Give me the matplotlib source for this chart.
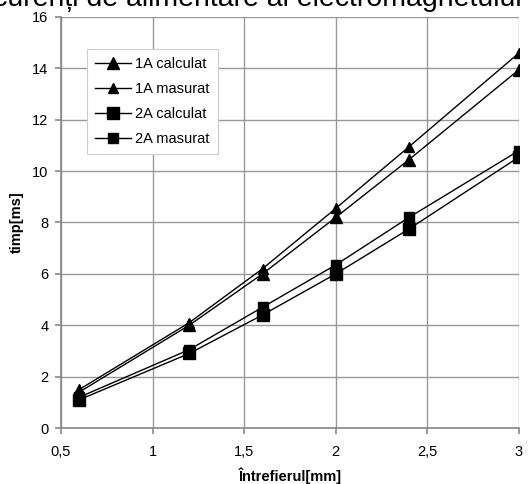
import numpy as np
import matplotlib.pyplot as plt

plt.rcParams['font.family'] = ['Liberation Sans', 'DejaVu Sans']

x = [0.6, 1.2, 1.6, 2.0, 2.4, 3.0]
calc_1A = [1.4, 4.0, 6.0, 8.2, 10.45, 13.95]
mas_1A = [1.5, 4.1, 6.2, 8.55, 10.95, 14.6]
calc_2A = [1.1, 2.9, 4.4, 6.0, 7.75, 10.55]
mas_2A = [1.2, 3.05, 4.7, 6.35, 8.2, 10.8]

xticks = [0.5, 1, 1.5, 2, 2.5, 3]
xlabels = ['0,5', '1', '1,5', '2', '2,5', '3']
yticks = list(range(0, 17, 2))

fig = plt.figure(figsize=(5.28, 4.84), dpi=100)
ax = fig.add_axes([0.1155, 0.1157, 0.8675, 0.8493])

ax.plot(x, calc_1A, color='k', lw=1, marker='^', ms=9, label='1A calculat')
ax.plot(x, mas_1A, color='k', lw=1, marker='^', ms=6.5, label='1A masurat')
ax.plot(x, calc_2A, color='k', lw=1, marker='s', ms=9, label='2A calculat')
ax.plot(x, mas_2A, color='k', lw=1, marker='s', ms=6.5, label='2A masurat')

ax.set_xlim(0.5, 3)
ax.set_ylim(0, 16)
ax.set_xticks(xticks)
ax.set_xticklabels(xlabels)
ax.set_yticks(yticks)
ax.grid(True, color='#999999', lw=1)
ax.set_axisbelow(True)
for s in ['top', 'right']:
    ax.spines[s].set_visible(False)
for s in ['left', 'bottom']:
    ax.spines[s].set_color('#888888')
    ax.spines[s].set_linewidth(1.2)
ax.tick_params(colors='#888888', labelcolor='black', labelsize=10.5, length=4, width=1.2)
ax.tick_params(axis='x', pad=8)
ax.tick_params(axis='y', pad=5)
for t in ax.get_xticklabels() + ax.get_yticklabels():
    t.set_clip_on(False)

ax.set_xlabel('Întrefierul[mm]', fontweight='bold', fontsize=10.5, va='center')
ax.xaxis.set_label_coords(0.5, -0.117)
ax.set_ylabel('timp[ms]', fontweight='bold', fontsize=10.5, va='center')
ax.yaxis.set_label_coords(-0.096, 0.5)

leg = ax.legend(loc='upper left', bbox_to_anchor=(0.0568, 0.922), fontsize=10.5,
                frameon=True, fancybox=False, edgecolor='#cccccc', framealpha=1,
                handlelength=2.5, labelspacing=0.75, handletextpad=0.25, borderpad=0.55,
                borderaxespad=0)
leg.get_frame().set_linewidth(0.8)

# titlul e taiat sus, ca in original
fig.text(0.9886, 0.988, 'Timpul de acționare în funcție de curenți de alimentare ai electromagnetului',
         ha='right', va='baseline', fontsize=20.5)

fig.savefig('out.png', dpi=100)
